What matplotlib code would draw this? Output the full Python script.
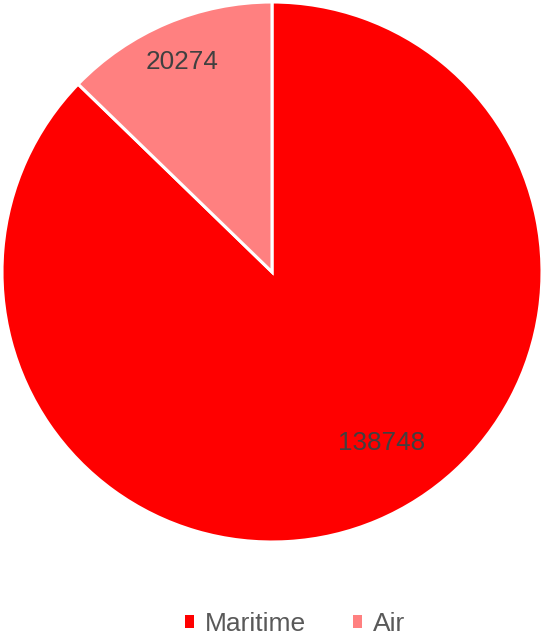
import matplotlib
matplotlib.use("Agg")
import matplotlib.pyplot as plt
from matplotlib.patches import Patch

# data
labels = ["Maritime", "Air"]
values = [138748, 20274]
colors = ["#FF0000", "#FF8080"]

# label placement (fraction of radius, in axes data units)
label_xy = [(0.404, -0.635), (-0.333, 0.776)]

plt.rcParams["font.family"] = ["Liberation Sans", "DejaVu Sans"]
W, H = 542, 637
fig = plt.figure(figsize=(W / 100, H / 100), dpi=100, facecolor="white")
ax = fig.add_axes([2 / W, (H - 542) / H, 540 / W, 540 / H])
wedges, _ = ax.pie(values, colors=colors, startangle=90, counterclock=False,
                   wedgeprops=dict(edgecolor="white", linewidth=2.2))
ax.set_xlim(-1, 1); ax.set_ylim(-1, 1); ax.set_aspect("equal")
for v, (x, y) in zip(values, label_xy):
    ax.text(x, y, str(v), ha="center", va="center", fontsize=18.8, color="#404040")

handles = [Patch(facecolor=c, edgecolor="none", label=l) for c, l in zip(colors, labels)]
fig.legend(handles=handles, loc="center", bbox_to_anchor=(295 / W, 13 / H), ncol=2, frameon=False,
           fontsize=19, labelcolor="#595959", handlelength=0.35, handleheight=0.35,
           handletextpad=0.4, columnspacing=1.8, borderpad=0.1)
fig.savefig("out.png", dpi=100, facecolor="white")
